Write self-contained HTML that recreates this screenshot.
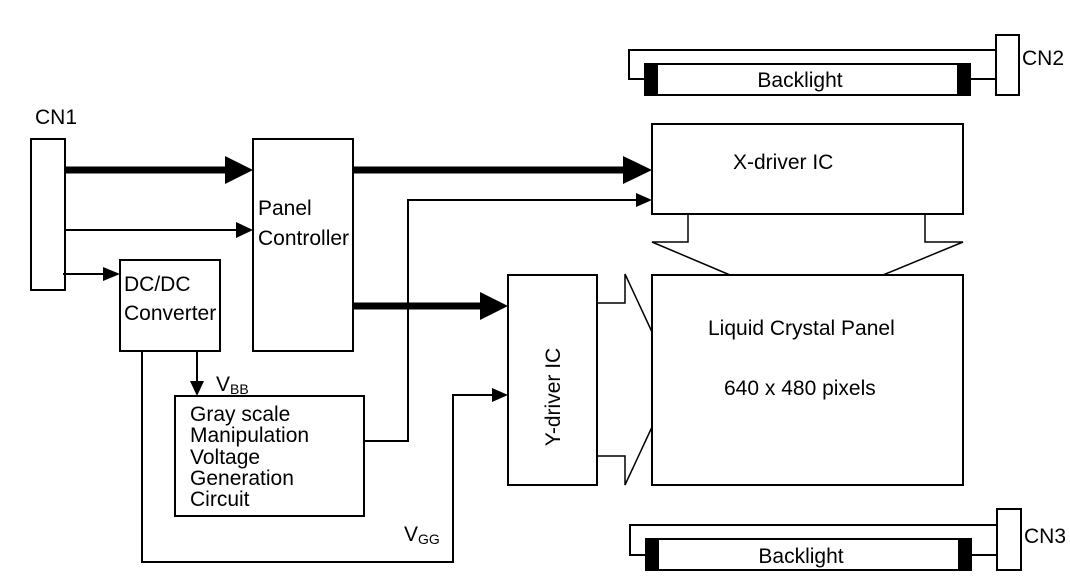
<!DOCTYPE html>
<html><head><meta charset="utf-8"><style>
html,body{margin:0;padding:0;background:#fff;}
svg{display:block;}
text{font-family:"Liberation Sans",Arial,sans-serif;font-size:21px;fill:#000;}
</style></head><body>
<svg width="1070" height="584" viewBox="0 0 1070 584" xmlns="http://www.w3.org/2000/svg">
<g fill="none" stroke="#000" stroke-width="2">
<rect x="31" y="139" width="34" height="151"/>
<rect x="253" y="139" width="100" height="212"/>
<rect x="120" y="260" width="100" height="91"/>
<rect x="175" y="396" width="189" height="120"/>
<rect x="508" y="275" width="89" height="210"/>
<rect x="652" y="275" width="311" height="210"/>
<rect x="652" y="124" width="311" height="90"/>
<line x1="65" y1="230" x2="238" y2="230"/>
<line x1="63" y1="274" x2="105" y2="274"/>
<polyline points="364,441 408,441 408,200 638,200"/>
<polyline points="142,351 142,562 453,562 453,395 494,395"/>
<line x1="197" y1="351" x2="197" y2="383"/>
<polyline stroke-width="1.5" points="688,214 688,242 652,242 730,275"/>
<polyline stroke-width="1.5" points="925,214 925,242 963,242 883,275"/>
<polyline stroke-width="1.5" points="597,303 625,303 625,274 652,332"/>
<polyline stroke-width="1.5" points="597,456 625,456 625,485 652,427"/>
<polyline points="645,79 629,79 629,50 996,50"/>
<line x1="970" y1="79" x2="996" y2="79"/>
<rect x="996" y="35" width="23" height="60"/>
<rect x="645" y="64" width="325" height="31"/>
<polyline points="646,555 630,555 630,525 997,525"/>
<line x1="971" y1="555" x2="997" y2="555"/>
<rect x="997" y="509" width="24" height="61"/>
<rect x="646" y="539" width="325" height="31"/>
</g>
<g stroke="#000" stroke-width="7">
<line x1="65" y1="170" x2="228" y2="170"/>
<line x1="353" y1="170" x2="626" y2="170"/>
<line x1="353" y1="306" x2="482" y2="306"/>
</g>
<g fill="#000">
<polygon points="225,156 253,170 225,184"/>
<polygon points="623,156 652,170 623,184"/>
<polygon points="480,292 508,306 480,320"/>
<polygon points="236,222 253,230 236,238"/>
<polygon points="103,267 120,274 103,281"/>
<polygon points="636,193 652,200 636,207"/>
<polygon points="492,388 508,395 492,402"/>
<polygon points="190,381 197,396 204,381"/>
<rect x="645" y="64" width="13" height="31"/>
<rect x="957" y="64" width="13" height="31"/>
<rect x="646" y="539" width="13" height="31"/>
<rect x="958" y="539" width="13" height="31"/>
</g>
<g font-size="20" >
<text x="35" y="124" font-size="20">CN1</text>
<text x="258" y="215" font-size="20">Panel</text>
<text x="258" y="245" font-size="20">Controller</text>
<text x="124" y="291" font-size="20">DC/DC</text>
<text x="124" y="320" font-size="20">Converter</text>
<text x="190" y="421" font-size="20">Gray scale</text>
<text x="190" y="442" font-size="20">Manipulation</text>
<text x="190" y="464" font-size="20">Voltage</text>
<text x="190" y="485" font-size="20">Generation</text>
<text x="190" y="506" font-size="20">Circuit</text>
<text x="216" y="391" font-size="20">V<tspan font-size="14" dy="3">BB</tspan></text>
<text x="404" y="541" font-size="20">V<tspan font-size="14" dy="3">GG</tspan></text>
<text x="733" y="169" font-size="20">X-driver IC</text>
<text x="708" y="335" font-size="20">Liquid Crystal Panel</text>
<text x="724" y="395" font-size="20">640 x 480 pixels</text>
<text x="560" y="397" font-size="20" text-anchor="middle" transform="rotate(-90 560 397)">Y-driver IC</text>
<text x="800" y="87" font-size="20" text-anchor="middle">Backlight</text>
<text x="801" y="563" font-size="20" text-anchor="middle">Backlight</text>
<text x="1022" y="65" font-size="20">CN2</text>
<text x="1024" y="543" font-size="20">CN3</text>
</g>
</svg>
</body></html>
